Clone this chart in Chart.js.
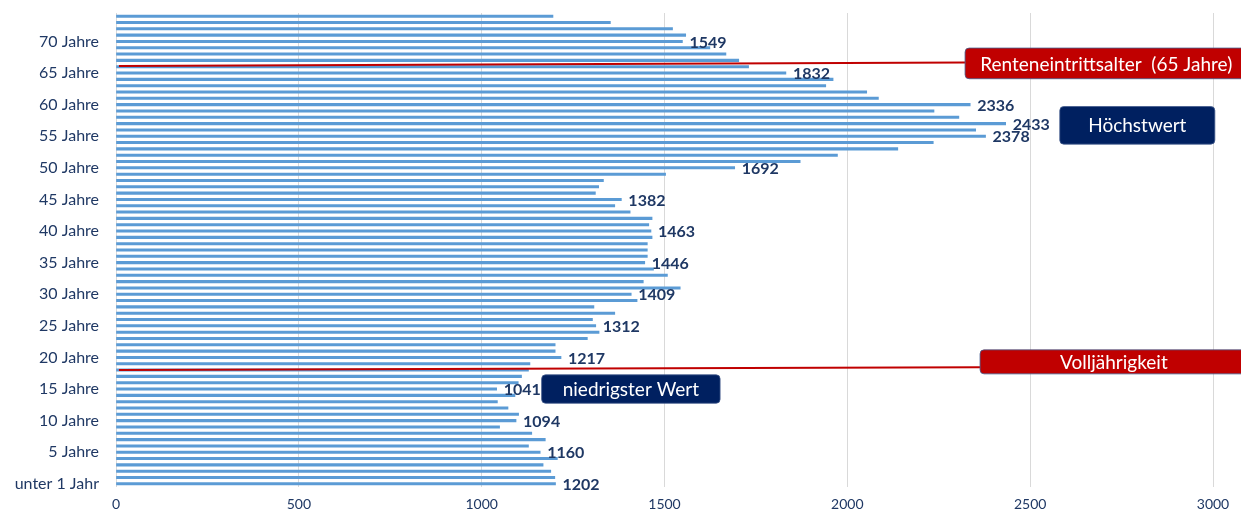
<!DOCTYPE html>
<html>
<head>
<meta charset="utf-8">
<style>
  html, body { margin: 0; padding: 0; background: #fff; }
  #wrap { width: 1241px; height: 510px; }
</style>
</head>
<body>
<div id="wrap"><canvas id="ageChart"></canvas></div>
<script src="https://cdn.jsdelivr.net/npm/chart.js"></script>
<script>
// Alter 0..74 (Index = Lebensjahr)
const ages = Array.from({ length: 75 }, (_, i) => i);

// Anzahl je Altersjahr
const population = [
  1202, 1200, 1189, 1168, 1207, 1160, 1128, 1174, 1137, 1049,
  1094, 1101, 1072, 1043, 1091, 1041, 1100, 1109, 1128, 1132,
  1217, 1201, 1201, 1289, 1321, 1312, 1303, 1364, 1307, 1425,
  1409, 1543, 1442, 1508, 1470, 1446, 1453, 1453, 1453, 1466,
  1463, 1457, 1466, 1406, 1364, 1382, 1311, 1320, 1333, 1503,
  1692, 1871, 1973, 2138, 2235, 2378, 2351, 2433, 2305, 2237,
  2336, 2085, 2053, 1941, 1961, 1832, 1730, 1703, 1668, 1624,
  1549, 1558, 1522, 1352, 1195
];

// Beschriftete Altersstufen an der y-Achse
const tickAges = [0, 5, 10, 15, 20, 25, 30, 35, 40, 45, 50, 55, 60, 65, 70];
const tickTexts = ['unter 1 Jahr', '5 Jahre', '10 Jahre', '15 Jahre', '20 Jahre', '25 Jahre', '30 Jahre',
  '35 Jahre', '40 Jahre', '45 Jahre', '50 Jahre', '55 Jahre', '60 Jahre', '65 Jahre', '70 Jahre'];

// Balken mit Zahlenwert
const labelledAges = [0, 5, 10, 15, 20, 25, 30, 35, 40, 45, 50, 55, 57, 60, 65, 70];

const xTicks = [0, 500, 1000, 1500, 2000, 2500, 3000];

const NAVY = '#1f3864';
const RED = '#c00000';
const BOX_NAVY = '#002060';

// Markierungen (x in Datenwerten, y in Altersjahren)
const markerLines = [
  { x0: 8, x1: 2322, yStart: 66.1, yEnd: 66.65 },
  { x0: 8, x1: 2363, yStart: 18.0, yEnd: 18.45 }
];
const markerBoxes = [
  { text: 'Renteneintrittsalter  (65 Jahre)', fill: RED, x0: 2322, x1: 3110, yTop: 68.95, yBottom: 64.1, textX: 2708 },
  { text: 'Höchstwert', fill: BOX_NAVY, x0: 2581, x1: 3005, yTop: 59.7, yBottom: 53.75 },
  { text: 'Volljährigkeit', fill: RED, x0: 2363, x1: 3110, yTop: 21.2, yBottom: 17.4, textX: 2729 },
  { text: 'niedrigster Wert', fill: BOX_NAVY, x0: 1164, x1: 1652, yTop: 17.25, yBottom: 12.75 }
];

const annotationPlugin = {
  id: 'annotations',
  afterDatasetsDraw(chart) {
    const { ctx, scales: { x, y } } = chart;
    ctx.save();

    // Zahlenwerte
    ctx.font = 'bold 16px Lato';
    ctx.fillStyle = NAVY;
    ctx.textBaseline = 'middle';
    ctx.textAlign = 'left';
    labelledAges.forEach(a => {
      ctx.fillText(String(population[a]), x.getPixelForValue(population[a]) + 7, y.getPixelForValue(a) + 1);
    });

    // rote Linien
    ctx.strokeStyle = RED;
    ctx.lineWidth = 2;
    markerLines.forEach(l => {
      ctx.beginPath();
      ctx.moveTo(x.getPixelForValue(l.x0), y.getPixelForValue(l.yStart));
      ctx.lineTo(x.getPixelForValue(l.x1), y.getPixelForValue(l.yEnd));
      ctx.stroke();
    });

    // Kästen
    markerBoxes.forEach(b => {
      const left = x.getPixelForValue(b.x0);
      const right = x.getPixelForValue(b.x1);
      const top = y.getPixelForValue(b.yTop);
      const bottom = y.getPixelForValue(b.yBottom);
      ctx.beginPath();
      ctx.roundRect(left, top, right - left, bottom - top, 4);
      ctx.fillStyle = b.fill;
      ctx.fill();
      ctx.lineWidth = 1;
      ctx.strokeStyle = 'rgba(65,90,140,0.8)';
      ctx.stroke();
      ctx.fillStyle = '#ffffff';
      ctx.font = '19px Lato';
      ctx.textAlign = 'center';
      const tx = b.textX !== undefined ? x.getPixelForValue(b.textX) : (left + right) / 2;
      ctx.fillText(b.text, tx, (top + bottom) / 2 + 1);
    });
    ctx.restore();
  }
};

const chartCanvas = document.querySelector('#ageChart');

new Chart(chartCanvas, {
  type: 'bar',
  data: {
    labels: ages,
    datasets: [{
      data: population,
      backgroundColor: '#5b9bd5',
      barThickness: 2.4,
      borderWidth: 0
    }]
  },
  options: {
    indexAxis: 'y',
    responsive: true,
    maintainAspectRatio: false,
    animation: false,
    layout: { padding: { top: 13, right: 28, left: 0, bottom: 0 } },
    plugins: {
      legend: { display: false },
      tooltip: { enabled: false }
    },
    scales: {
      x: {
        min: 0,
        max: 3000,
        afterFit(scale) {
          scale.height = 23;
          scale.paddingLeft = 0;
          scale.paddingRight = 0;
        },
        afterBuildTicks(scale) { scale.ticks = xTicks.map(v => ({ value: v })); },
        grid: { color: '#d9d9d9', lineWidth: 1, drawTicks: false },
        border: { display: false },
        ticks: {
          padding: 9,
          color: NAVY,
          font: { family: 'Lato', size: 14 },
          maxRotation: 0,
          callback: value => String(value)
        }
      },
      y: {
        reverse: true,
        afterFit(scale) {
          scale.width = 116;
          scale.paddingTop = 0;
          scale.paddingBottom = 0;
        },
        grid: { display: false, drawTicks: false },
        border: { display: false },
        ticks: {
          autoSkip: false,
          padding: 17,
          color: NAVY,
          font: { family: 'Lato', size: 16 },
          callback(value, index) {
            const pos = tickAges.indexOf(ages[index]);
            return pos >= 0 ? tickTexts[pos] : null;
          }
        }
      }
    }
  },
  plugins: [annotationPlugin]
});
</script>
</body>
</html>
